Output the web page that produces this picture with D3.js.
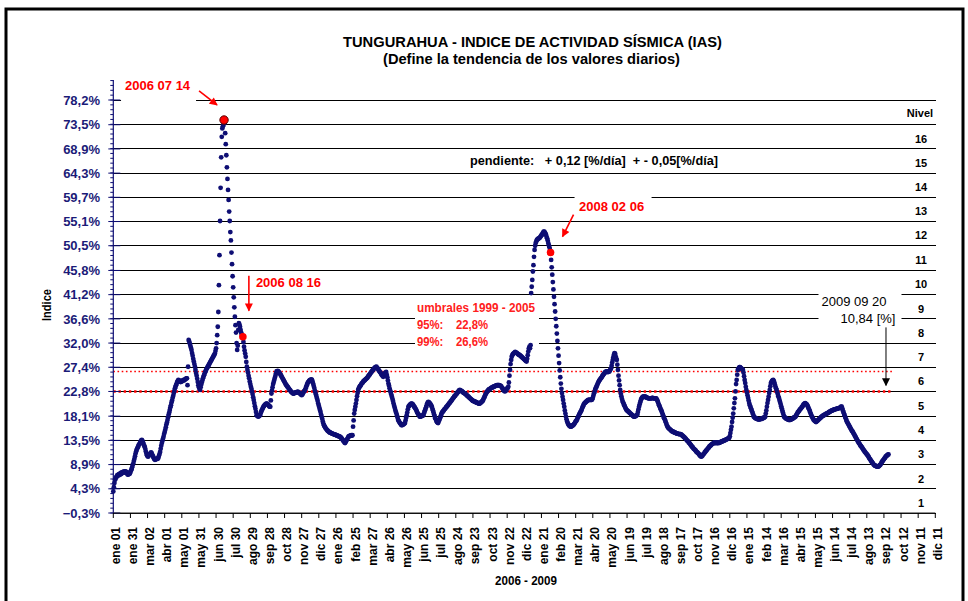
<!DOCTYPE html>
<html><head><meta charset="utf-8">
<script src="https://cdn.jsdelivr.net/npm/d3@7"></script>
<style>
body{margin:0;background:#fff}
svg{display:block}
text{font-family:"Liberation Sans",Arial,sans-serif}
</style>
</head><body><svg id="c" width="968" height="601"></svg>
<script>
// ---------------- DATA ----------------
const startDate = "2006-01-01";
const endDate = "2009-12-11";
// daily IAS values [%] from 2006-01-01 to 2009-09-20
const iasValues = [
3.8,4.6,5.4,6.0,6.2,6.5,6.6,6.9,6.8,7.0,
7.1,6.9,7.2,7.3,7.1,7.4,7.3,7.5,7.4,7.6,
7.4,7.6,7.5,7.5,7.2,7.0,7.0,7.3,7.1,7.2,
7.5,7.8,8.0,8.4,8.8,9.1,9.6,10.0,10.5,11.0,
11.4,11.7,12.0,12.2,12.5,12.7,12.8,13.1,13.3,13.5,
13.6,13.4,13.1,12.8,12.5,12.3,11.9,11.4,11.0,10.7,
10.5,10.4,10.6,10.8,10.9,11.0,11.2,11.1,10.8,10.6,
10.4,10.1,9.9,9.8,9.9,9.9,10.0,10.1,10.0,10.2,
10.6,10.9,11.3,11.9,12.5,13.0,13.4,13.8,14.2,14.7,
15.1,15.5,16.0,16.5,16.9,17.4,17.9,18.4,18.8,19.3,
19.8,20.2,20.7,21.1,21.6,22.0,22.5,22.9,23.4,23.7,
24.0,24.3,24.6,24.8,25.0,24.9,24.7,24.8,24.6,24.7,
24.7,24.8,24.9,25.0,24.9,25.0,25.1,25.2,25.3,25.3,
24.0,27.5,32.6,32.3,31.9,31.5,31.1,30.7,30.1,29.6,
29.0,28.5,28.0,27.5,26.9,26.3,25.8,25.2,24.6,24.0,
23.6,23.3,23.1,23.6,24.1,24.5,24.9,25.3,25.6,25.9,
26.2,26.5,26.7,27.0,27.2,27.4,27.6,27.8,28.0,28.2,
28.4,28.6,28.8,29.0,29.2,29.4,29.6,29.8,30.0,30.5,
31.0,32.0,33.5,35.1,37.9,43.0,48.7,55.2,61.5,67.3,
71.2,72.8,73.2,73.5,74.4,73.8,71.9,69.8,67.7,65.4,
63.2,61.1,59.2,57.0,55.2,53.1,51.5,49.2,47.0,44.7,
42.6,40.7,38.8,37.0,35.4,34.0,32.0,30.7,31.5,34.5,
35.8,35.5,35.1,34.5,34.0,33.6,33.4,33.2,32.2,31.3,
30.6,30.0,29.4,28.4,27.5,26.9,26.4,25.8,25.3,24.7,
24.2,23.7,23.3,22.8,22.3,21.7,21.2,20.6,20.0,19.5,
18.9,18.3,18.2,18.1,18.0,18.1,18.2,18.3,18.6,18.9,
19.2,19.4,19.7,19.9,20.0,20.2,20.3,20.4,20.5,20.5,
20.4,20.3,20.2,20.0,19.9,19.9,21.1,22.4,23.0,23.6,
24.2,24.6,25.0,25.4,25.8,26.2,26.6,26.6,26.7,26.6,
26.5,26.3,26.2,26.0,25.8,25.6,25.4,25.2,25.0,24.8,
24.6,24.4,24.2,24.0,23.9,23.7,23.6,23.4,23.3,23.1,
23.0,22.8,22.7,22.6,22.5,22.4,22.4,22.5,22.5,22.6,
22.6,22.6,22.7,22.7,22.7,22.6,22.5,22.4,22.3,22.2,
22.1,22.2,22.4,22.6,22.8,22.9,23.1,23.4,23.7,24.0,
24.3,24.5,24.6,24.8,24.9,25.0,25.0,25.1,25.0,24.7,
24.3,23.9,23.5,23.0,22.6,22.2,21.8,21.4,21.0,20.5,
20.1,19.7,19.3,18.9,18.4,18.0,17.6,17.1,16.7,16.4,
16.2,16.0,15.8,15.7,15.5,15.4,15.3,15.2,15.1,15.0,
15.0,14.9,14.9,14.8,14.8,14.7,14.7,14.6,14.6,14.6,
14.5,14.5,14.4,14.4,14.3,14.3,14.2,14.2,14.1,14.0,
13.9,13.7,13.6,13.4,13.3,13.1,13.0,13.2,13.4,13.6,
13.8,14.0,14.2,14.3,14.3,14.4,14.4,14.5,14.4,14.5,
16.1,17.3,18.6,19.3,19.9,20.5,21.2,21.9,22.5,23.1,
23.4,23.6,23.8,23.9,24.1,24.3,24.4,24.5,24.7,24.8,
24.9,25.0,25.1,25.2,25.3,25.4,25.6,25.7,25.9,26.0,
26.2,26.3,26.5,26.6,26.8,26.9,27.0,27.2,27.3,27.4,
27.4,27.5,27.3,27.2,27.0,26.8,26.7,26.5,26.4,26.2,
26.0,25.9,25.7,25.6,25.8,26.1,26.3,26.4,26.5,26.0,
25.5,24.9,24.3,23.9,23.4,23.0,22.6,22.2,21.8,21.4,
21.0,20.5,20.1,19.7,19.3,18.9,18.6,18.2,17.8,17.4,
17.2,17.0,16.8,16.7,16.5,16.4,16.4,16.5,16.5,16.6,
16.7,16.8,17.3,17.8,18.3,18.8,19.4,19.9,20.0,20.2,
20.3,20.4,20.5,20.5,20.4,20.3,20.1,19.9,19.8,19.6,
19.4,19.2,18.9,18.7,18.5,18.4,18.2,18.0,18.0,18.1,
18.1,18.2,18.2,18.3,18.6,18.9,19.2,19.5,19.8,20.2,
20.5,20.7,20.8,20.7,20.6,20.5,20.3,20.1,19.9,19.5,
19.2,18.8,18.4,18.1,17.7,17.5,17.2,17.0,16.9,16.8,
17.1,17.4,17.6,17.9,18.3,18.6,18.8,18.9,19.1,19.2,
19.4,19.5,19.6,19.8,19.9,20.0,20.2,20.3,20.5,20.6,
20.7,20.9,21.0,21.2,21.3,21.5,21.6,21.8,21.9,22.0,
22.2,22.3,22.4,22.6,22.7,22.9,23.0,23.1,23.0,22.9,
22.9,22.8,22.7,22.6,22.5,22.5,22.4,22.3,22.2,22.1,
22.0,21.9,21.8,21.7,21.6,21.5,21.4,21.3,21.2,21.1,
21.0,21.0,20.9,20.9,20.8,20.8,20.7,20.7,20.6,20.6,
20.5,20.5,20.5,20.6,20.7,20.8,20.9,21.0,21.2,21.5,
21.7,22.0,22.2,22.4,22.6,22.8,22.9,23.1,23.2,23.2,
23.3,23.4,23.5,23.5,23.6,23.6,23.7,23.7,23.8,23.8,
23.9,23.9,24.0,24.0,24.0,24.0,24.0,23.9,23.9,23.8,
23.7,23.5,23.4,23.2,23.0,22.9,22.8,22.9,23.0,23.2,
23.4,23.5,23.7,24.5,25.8,26.9,28.0,28.8,29.4,29.7,
29.9,30.0,30.1,30.2,30.3,30.2,30.2,30.1,30.0,29.9,
29.8,29.8,29.7,29.6,29.5,29.4,29.3,29.2,29.1,29.0,
28.9,28.8,28.7,28.6,28.5,29.0,29.7,30.4,31.0,31.3,
31.0,31.6,41.5,42.7,44.0,45.6,46.8,48.4,49.7,50.5,
51.0,51.3,51.6,51.7,51.8,51.9,51.9,52.0,52.2,52.3,
52.5,52.6,52.8,53.0,53.2,53.2,53.0,52.8,52.6,52.2,
51.9,51.5,51.0,50.6,50.2,49.7,49.2,47.8,46.4,45.0,
43.6,42.2,40.8,39.4,38.0,36.6,35.2,33.8,32.4,31.0,
29.6,28.2,26.8,25.5,24.3,23.3,22.5,21.8,21.2,20.5,
19.9,19.2,18.6,18.0,17.5,17.1,16.8,16.6,16.4,16.3,
16.2,16.1,16.1,16.2,16.3,16.4,16.4,16.6,16.7,16.9,
17.1,17.2,17.4,17.6,17.9,18.1,18.4,18.6,18.8,19.0,
19.2,19.5,19.8,20.0,20.3,20.5,20.6,20.7,20.8,20.9,
21.0,21.1,21.2,21.2,21.2,21.2,21.2,21.2,21.2,21.3,
21.6,22.0,22.4,22.7,23.1,23.4,23.6,23.9,24.1,24.4,
24.6,24.8,25.0,25.1,25.3,25.4,25.6,25.8,25.9,26.1,
26.2,26.4,26.5,26.5,26.6,26.5,26.6,26.5,26.6,26.6,
26.8,27.0,27.2,27.7,28.3,28.8,29.3,29.8,30.1,30.0,
29.5,29.1,28.8,27.9,26.9,25.8,24.9,24.0,23.1,22.4,
21.9,21.4,21.0,20.7,20.5,20.2,20.0,19.7,19.5,19.3,
19.2,19.1,19.0,18.9,18.8,18.7,18.6,18.5,18.4,18.3,
18.2,18.1,18.0,18.0,18.1,18.1,18.2,18.3,18.4,18.9,
19.4,19.9,20.3,20.7,21.1,21.4,21.6,21.7,21.8,21.8,
21.8,21.8,21.8,21.7,21.7,21.6,21.6,21.5,21.5,21.5,
21.5,21.5,21.5,21.5,21.6,21.6,21.5,21.5,21.5,21.5,
21.5,21.5,21.3,21.1,20.8,20.5,20.2,20.0,19.7,19.4,
19.2,18.9,18.6,18.3,18.0,17.7,17.5,17.2,16.9,16.6,
16.3,16.1,15.9,15.8,15.7,15.6,15.5,15.4,15.3,15.2,
15.2,15.1,15.1,15.0,15.0,14.9,14.9,14.8,14.8,14.8,
14.7,14.7,14.7,14.7,14.7,14.6,14.5,14.4,14.3,14.2,
14.1,14.0,13.9,13.8,13.6,13.5,13.4,13.3,13.1,13.0,
12.9,12.7,12.6,12.4,12.3,12.2,12.0,11.9,11.8,11.7,
11.6,11.4,11.3,11.2,11.1,11.0,10.9,10.7,10.6,10.5,
10.4,10.5,10.6,10.8,10.9,11.0,11.2,11.3,11.5,11.6,
11.7,11.9,12.0,12.1,12.3,12.4,12.5,12.6,12.7,12.8,
12.9,12.9,13.0,13.1,13.1,13.0,13.0,13.1,13.0,13.0,
13.1,13.0,13.1,13.1,13.2,13.2,13.3,13.3,13.4,13.4,
13.5,13.5,13.6,13.6,13.7,13.7,13.8,13.9,13.9,14.0,
14.3,14.9,15.5,16.1,17.0,17.8,18.6,19.6,20.6,21.5,
22.8,24.2,25.0,26.0,26.9,27.1,27.3,27.4,27.4,27.3,
27.2,27.1,27.0,26.9,26.4,25.7,25.0,24.4,23.7,23.1,
22.6,22.1,21.6,21.1,20.6,20.2,19.9,19.6,19.3,19.0,
18.7,18.4,18.0,17.9,17.8,17.7,17.7,17.6,17.6,17.5,
17.5,17.5,17.5,17.5,17.6,17.6,17.6,17.7,17.7,17.8,
17.8,17.9,18.0,18.6,19.2,19.9,20.6,21.2,21.8,22.5,
23.1,23.8,24.4,24.6,24.8,24.9,25.0,24.8,24.5,24.1,
23.7,23.4,23.1,22.7,22.3,21.9,21.6,21.2,20.8,20.4,
20.0,19.6,19.2,18.8,18.4,18.0,17.9,17.8,17.7,17.6,
17.6,17.5,17.5,17.4,17.4,17.4,17.4,17.5,17.5,17.6,
17.6,17.7,17.8,17.9,17.9,18.0,18.2,18.4,18.6,18.8,
18.9,19.1,19.2,19.4,19.5,19.6,19.8,19.9,20.1,20.3,
20.4,20.5,20.6,20.5,20.4,20.3,20.1,19.9,19.6,19.4,
19.1,18.8,18.5,18.2,18.0,17.8,17.6,17.4,17.3,17.2,
17.1,17.0,17.1,17.2,17.3,17.4,17.5,17.6,17.7,17.8,
17.9,18.0,18.1,18.2,18.2,18.3,18.4,18.4,18.5,18.6,
18.6,18.7,18.7,18.8,18.9,18.9,19.0,19.1,19.1,19.2,
19.2,19.3,19.3,19.4,19.4,19.4,19.5,19.5,19.5,19.6,
19.6,19.6,19.7,19.7,19.8,19.9,19.9,19.6,19.2,18.9,
18.6,18.3,18.0,17.7,17.4,17.1,16.9,16.7,16.5,16.3,
16.1,15.9,15.7,15.5,15.3,15.2,15.0,14.8,14.6,14.4,
14.2,14.0,13.8,13.6,13.4,13.2,13.0,12.9,12.7,12.5,
12.4,12.2,12.1,11.9,11.7,11.6,11.4,11.3,11.1,11.0,
10.9,10.7,10.6,10.4,10.2,10.0,9.9,9.7,9.5,9.4,
9.2,9.1,8.9,8.8,8.7,8.7,8.6,8.6,8.5,8.5,
8.5,8.6,8.7,8.8,8.9,9.1,9.3,9.5,9.6,9.8,
9.9,10.1,10.2,10.4,10.5,10.6,10.7,10.8,10.84
];
const yTickValues = [-0.3,4.3,8.9,13.5,18.1,22.8,27.4,32.0,36.6,41.2,45.8,50.5,55.1,59.7,64.3,68.9,73.5,78.2];
const xTickLabels = ["ene 01","ene 31","mar 02","abr 01","may 01","may 31","jun 30","jul 30","ago 29","sep 28","oct 28","nov 27","dic 27",
 "ene 26","feb 25","mar 27","abr 26","may 26","jun 25","jul 25","ago 24","sep 23","oct 23","nov 22","dic 22",
 "ene 21","feb 20","mar 21","abr 20","may 20","jun 19","jul 19","ago 18","sep 17","oct 17","nov 16","dic 16",
 "ene 15","feb 14","mar 16","abr 15","may 15","jun 14","jul 14","ago 13","sep 12","oct 12","nov 11","dic 11"];
const xTickStepDays = 30;
const thresholdValues = [22.8, 26.6];
const thresholdNames = ["95%", "99%"];
const highlightDates = ["2006-07-14", "2006-08-16", "2008-02-06"];
const nivelLabels = [1,2,3,4,5,6,7,8,9,10,11,12,13,14,15,16];

// ---------------- CHART ----------------
const svg = d3.select("#c");
const parse = d3.utcParse("%Y-%m-%d");
const t0 = parse(startDate), t1 = parse(endDate);
const L = 113.3, R = 935.3, T = 100, B = 513;
const x = d3.scaleUtc().domain([t0, t1]).range([L, R]);
const y = d3.scaleLinear().domain([yTickValues[0], yTickValues[yTickValues.length-1]]).range([B, T]);
const data = iasValues.map((v, i) => ({date: d3.utcDay.offset(t0, i), value: v}));
const fmt = v => d3.format(".1f")(v).replace(".", ",");
const fmt2 = v => d3.format(".2f")(v).replace(".", ",");
const NB = "\u00A0";
const NAVY = "#0e0e74";

svg.append("rect").attr("width", 968).attr("height", 601).attr("fill", "#fff");

// markers
const defs = svg.append("defs");
[["arRed","#ff0000"],["arBlk","#000"]].forEach(([id,c])=>{
  defs.append("marker").attr("id", id).attr("viewBox","0 0 10 10").attr("refX",9).attr("refY",5)
    .attr("markerWidth",9).attr("markerHeight",8).attr("markerUnits","userSpaceOnUse").attr("orient","auto")
    .append("path").attr("d","M0,0L10,5L0,10Z").attr("fill",c);
});

// gridlines
svg.append("g").selectAll("line").data(yTickValues).join("line")
  .attr("x1", L).attr("x2", 936).attr("y1", d => y(d)).attr("y2", d => y(d))
  .attr("stroke", "#000").attr("stroke-width", 1).attr("shape-rendering","crispEdges");

// threshold lines
svg.append("g").selectAll("line").data(thresholdValues).join("line")
  .attr("x1", L).attr("x2", 892).attr("y1", d => y(d)).attr("y2", d => y(d))
  .attr("stroke", "#ff0000")
  .attr("stroke-width", (d,i) => i === 0 ? 2.4 : 1.3)
  .attr("stroke-dasharray", (d,i) => i === 0 ? "2.4,2.8" : "1.6,2.6");

// y axis (major + minor ticks)
const yAx = svg.append("g");
yAx.append("line").attr("x1", L).attr("x2", L).attr("y1", y(yTickValues[0])).attr("y2", y(82.0))
  .attr("stroke", NAVY).attr("stroke-width", 1.2);
const minorStep = (yTickValues[yTickValues.length-1]-yTickValues[0])/85;
const minor = d3.range(0, 90).map(i => yTickValues[0] + i*minorStep).filter(v => v <= 82.1);
yAx.selectAll("line.mi").data(minor).join("line").attr("class","mi")
  .attr("x1", L-3).attr("x2", L).attr("y1", d => y(d)).attr("y2", d => y(d))
  .attr("stroke", NAVY).attr("stroke-width", 1);
yAx.selectAll("line.ma").data(yTickValues).join("line").attr("class","ma")
  .attr("x1", L-5).attr("x2", L+7).attr("y1", d => y(d)).attr("y2", d => y(d))
  .attr("stroke", NAVY).attr("stroke-width", 1);
yAx.selectAll("text").data(yTickValues).join("text")
  .attr("x", 100).attr("y", d => y(d)).attr("dy", "0.36em").attr("text-anchor", "end")
  .attr("font-size", 13).attr("font-weight", "bold").attr("fill", "#1b1b78")
  .text(d => fmt(d) + "%");

// x axis
const xTicks = xTickLabels.map((s, i) => d3.utcDay.offset(t0, i*xTickStepDays));
const xAx = svg.append("g");
xAx.append("line").attr("x1", L).attr("x2", R).attr("y1", B).attr("y2", B)
  .attr("stroke", "#222").attr("stroke-width", 1.2);
xAx.selectAll("line.t").data(xTicks).join("line").attr("class","t")
  .attr("x1", d => x(d)).attr("x2", d => x(d)).attr("y1", B).attr("y2", B+5)
  .attr("stroke", "#000").attr("stroke-width", 1);
xAx.selectAll("text").data(xTicks).join("text")
  .attr("transform", d => `translate(${x(d)+6.5},527) rotate(-90)`)
  .attr("text-anchor", "end").attr("font-size", 12).attr("font-weight", "bold").attr("fill", "#000")
  .text((d, i) => xTickLabels[i]);

// Nivel column
const nv = svg.append("g").attr("font-size", 11).attr("font-weight", "bold").attr("text-anchor", "middle");
nv.selectAll("text").data(nivelLabels).join("text")
  .attr("x", 921).attr("y", d => (y(yTickValues[d-1]) + y(yTickValues[d]))/2 + 2).attr("dy", "0.35em")
  .text(d => d);
nv.append("text").attr("x", 920).attr("y", (y(yTickValues[16]) + y(yTickValues[17]))/2 + 1).attr("dy","0.35em").text("Nivel");

// highlight lookup
const hl = highlightDates.map(s => { const d = parse(s); return data[d3.utcDay.count(t0, d)]; });
const last = data[data.length - 1];
const px = d => x(d.date), py = d => y(d.value);

// white annotation boxes (cover gridlines)
const boxes = svg.append("g").attr("fill", "#fff");
boxes.append("rect").attr("x", px(hl[0]) - 103).attr("y", py(hl[0]) - 48).attr("width", 75).attr("height", 30);
boxes.append("rect").attr("x", px(hl[2]) + 24).attr("y", py(hl[2]) - 60).attr("width", 77).attr("height", 26);
boxes.append("rect").attr("x", 415).attr("y", 297).attr("width", 124).attr("height", 51);
boxes.append("rect").attr("x", px(last) - 70).attr("y", py(last) - 165).attr("width", 83).attr("height", 38);

// data dots
svg.append("g").attr("fill", NAVY).selectAll("circle").data(data).join("circle")
  .attr("cx", px).attr("cy", py).attr("r", 2.4);

// highlighted dots
svg.append("g").selectAll("circle").data(hl).join("circle")
  .attr("cx", px).attr("cy", py).attr("r", (d,i) => i === 0 ? 4.2 : 3.8)
  .attr("fill", "#ff0000").attr("stroke", (d,i) => i === 0 ? "#5a0000" : "none").attr("stroke-width", 1);

// annotations
const red = svg.append("g").attr("fill", "#ff0000").attr("font-weight", "bold").attr("font-size", 13);
red.append("text").attr("x", px(hl[0]) - 99).attr("y", py(hl[0]) - 30).text("2006 07 14");
red.append("text").attr("x", px(hl[1]) + 13).attr("y", py(hl[1]) - 50).text("2006 08 16");
red.append("text").attr("x", px(hl[2]) + 28.5).attr("y", py(hl[2]) - 42).text("2008 02 06");

const arrows = svg.append("g").attr("stroke-width", 1.6);
arrows.append("line").attr("x1", px(hl[0]) - 25).attr("y1", py(hl[0]) - 29)
  .attr("x2", px(hl[0]) - 7).attr("y2", py(hl[0]) - 15).attr("stroke", "#ff0000").attr("marker-end", "url(#arRed)");
arrows.append("line").attr("x1", px(hl[1]) + 6).attr("y1", py(hl[1]) - 61)
  .attr("x2", px(hl[1]) + 6).attr("y2", py(hl[1]) - 26).attr("stroke", "#ff0000").attr("marker-end", "url(#arRed)");
arrows.append("line").attr("x1", px(hl[2]) + 23).attr("y1", py(hl[2]) - 38)
  .attr("x2", px(hl[2]) + 12).attr("y2", py(hl[2]) - 16).attr("stroke", "#ff0000").attr("marker-end", "url(#arRed)");
arrows.append("line").attr("x1", px(last) - 2.5).attr("y1", py(last) - 127)
  .attr("x2", px(last) - 2.5).attr("y2", py(last) - 69).attr("stroke", "#000").attr("stroke-width", 1)
  .attr("marker-end", "url(#arBlk)");

// last value label
const lv = svg.append("g").attr("font-size", 13).attr("fill", "#000");
lv.append("text").attr("x", px(last) - 67).attr("y", py(last) - 148).text(d3.utcFormat("%Y %m %d")(last.date));
lv.append("text").attr("x", px(last) - 48).attr("y", py(last) - 131).text(fmt2(last.value) + " [%]");

// thresholds text
const um = svg.append("g").attr("fill", "#ff2020").attr("font-weight", "bold").attr("font-size", 12)
  .attr("font-family", "Lato, 'Open Sans', sans-serif");
um.append("text").attr("x", 417).attr("y", 312).attr("textLength", 118).attr("lengthAdjust","spacingAndGlyphs").text("umbrales 1999 - 2005");
thresholdValues.forEach((v, i) => {
  um.append("text").attr("x", 417).attr("y", 329 + i*16.5).attr("textLength", 71).attr("lengthAdjust","spacingAndGlyphs")
    .text(thresholdNames[i] + ":" + NB + NB + NB + NB + fmt(v) + "%");
});

// titles
svg.append("text").attr("x", 532.5).attr("y", 47).attr("text-anchor", "middle").attr("font-size", 15.5)
  .attr("font-weight", "bold").attr("textLength", 379).attr("lengthAdjust", "spacingAndGlyphs")
  .text("TUNGURAHUA - INDICE DE ACTIVIDAD SÍSMICA (IAS)");
svg.append("text").attr("x", 531.5).attr("y", 64).attr("text-anchor", "middle").attr("font-size", 15)
  .attr("font-weight", "bold").attr("textLength", 297).attr("lengthAdjust", "spacingAndGlyphs")
  .text("(Define la tendencia de los valores diarios)");
svg.append("text").attr("x", 470).attr("y", 165).attr("font-size", 13).attr("font-weight", "bold")
  .attr("textLength", 248).attr("lengthAdjust", "spacingAndGlyphs")
  .text("pendiente:" + NB + NB + NB + "+ 0,12 [%/día]" + NB + NB + "+ - 0,05[%/día]");
svg.append("text").attr("transform", "translate(51,305) rotate(-90)").attr("text-anchor", "middle")
  .attr("font-size", 13).attr("font-weight", "bold").attr("textLength", 32).attr("lengthAdjust", "spacingAndGlyphs")
  .text("Indice");
svg.append("text").attr("x", 526).attr("y", 585).attr("text-anchor", "middle").attr("font-size", 13)
  .attr("font-weight", "bold").attr("textLength", 62).attr("lengthAdjust", "spacingAndGlyphs").text("2006 - 2009");

// frame
svg.append("rect").attr("x", 6).attr("y", 9).attr("width", 957).attr("height", 620)
  .attr("fill", "none").attr("stroke", "#000").attr("stroke-width", 3);
</script>
</body></html>
